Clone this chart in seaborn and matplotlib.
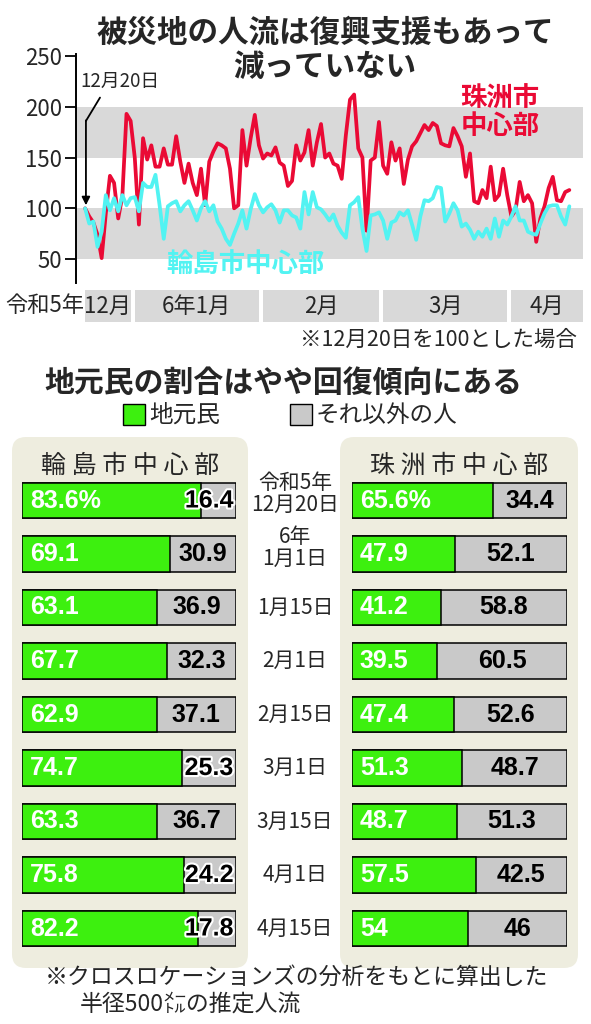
"""
被災地の人流 (輪島市・珠洲市中心部) と地元民の割合
"""

import numpy as np
import pandas as pd
import matplotlib
matplotlib.use("Agg")
import matplotlib.pyplot as plt
import seaborn as sns
from matplotlib.patches import Rectangle, FancyBboxPatch
from matplotlib import transforms
import matplotlib.patheffects as pe

sns.set_theme(style="white")
plt.rcParams['font.family'] = ['Noto Sans CJK JP', 'DejaVu Sans']

# ---- data: daily index (Dec 20 = 100) ----
days = pd.date_range("2023-12-20", "2024-04-15", freq="D")

suzu = [100, 92, 86, 74, 51, 95, 132, 125, 90, 112,
        193, 186, 150, 84, 169, 148, 162, 141, 141, 159,
        143, 143, 171, 146, 125, 144, 125, 113, 139, 103,
        146, 156, 164, 162, 159, 139, 100, 103, 177, 142,
        169, 192, 162, 149, 154, 152, 160, 145, 142, 122,
        127, 162, 147, 155, 177, 142, 165, 183, 150, 154,
        144, 142, 129, 172, 207, 212, 159, 150, 78, 147,
        150, 185, 142, 134, 165, 147, 159, 124, 148, 161,
        166, 174, 182, 177, 184, 181, 164, 162, 161, 179,
        171, 161, 131, 154, 107, 105, 118, 110, 141, 108,
        113, 139, 113, 92, 98, 126, 107, 113, 105, 67,
        90, 102, 120, 131, 108, 107, 116, 118]

wajima = [100, 85, 87, 62, 77, 113, 98, 110, 97, 113,
          103, 110, 111, 97, 125, 121, 121, 133, 103, 70,
          102, 105, 107, 97, 103, 107, 98, 88, 100, 107,
          97, 103, 87, 80, 70, 64, 75, 85, 98, 80,
          99, 114, 103, 96, 101, 104, 98, 86, 98, 98,
          93, 91, 80, 116, 94, 116, 101, 99, 94, 88,
          94, 83, 76, 71, 103, 106, 111, 80, 58, 93,
          94, 96, 88, 70, 86, 88, 96, 93, 98, 84,
          69, 92, 108, 107, 110, 121, 120, 87, 95, 105,
          98, 82, 85, 79, 70, 77, 72, 80, 70, 90,
          72, 88, 84, 92, 102, 88, 88, 77, 75, 74,
          85, 95, 102, 103, 103, 92, 84, 102]

yticks = [50, 100, 150, 200, 250]
month_labels = ["12月", "6年1月", "2月", "3月", "4月"]

# ---- data: share of local residents (%) ----
row_labels = ["令和5年\n12月20日", "6年\n1月1日", "1月15日", "2月1日", "2月15日",
              "3月1日", "3月15日", "4月1日", "4月15日"]
wajima_local = [83.6, 69.1, 63.1, 67.7, 62.9, 74.7, 63.3, 75.8, 82.2]
wajima_other = [16.4, 30.9, 36.9, 32.3, 37.1, 25.3, 36.7, 24.2, 17.8]
suzu_local = [65.6, 47.9, 41.2, 39.5, 47.4, 51.3, 48.7, 57.5, 54]
suzu_other = [34.4, 52.1, 58.8, 60.5, 52.6, 48.7, 51.3, 42.5, 46]

RED = "#EA0A35"
CYAN = "#52F3F2"
GREEN = "#3DF00F"
GRAY = "#C9C9C9"
BAND = "#D9D9D9"
PANEL = "#EEEDDF"

W, H = 591, 1024


def rect(l, t, r, b):
    """pixel box -> figure fraction"""
    return [l / W, 1 - b / H, (r - l) / W, (b - t) / H]


fig = plt.figure(figsize=(W / 100, H / 100), dpi=100)

# background axes in pixel units
bg = fig.add_axes([0, 0, 1, 1], zorder=0)
bg.set_xlim(0, W)
bg.set_ylim(H, 0)
bg.axis('off')

# ---- titles ----
bg.text(325, 33, "被災地の人流は復興支援もあって", ha='center', va='center',
        fontsize=22, fontweight='bold')
bg.text(325, 67, "減っていない", ha='center', va='center',
        fontsize=22, fontweight='bold')

# ---- line chart ----
ax = fig.add_axes(rect(76, 53.9, 583, 283), zorder=2)
ax.patch.set_alpha(0)
x = np.arange(len(days))
df = pd.DataFrame({"day": x, "珠洲市中心部": suzu, "輪島市中心部": wajima})

ax.axhspan(50, 100, color=BAND, lw=0, zorder=0)
ax.axhspan(150, 200, color=BAND, lw=0, zorder=0)
sns.lineplot(data=df, x="day", y="珠洲市中心部", ax=ax, color=RED, lw=2.7, zorder=3)
sns.lineplot(data=df, x="day", y="輪島市中心部", ax=ax, color=CYAN, lw=2.7, zorder=4)

ax.set_xlim(-2.2, 120.3)
ax.set_ylim(26.5, 252)
ax.set_yticks(yticks)
ax.set_xticks([])
ax.set_xlabel("")
ax.set_ylabel("")
for s in ['top', 'right', 'bottom']:
    ax.spines[s].set_visible(False)
ax.spines['left'].set_color('black')
ax.spines['left'].set_linewidth(1.4)
ax.tick_params(axis='y', length=8, width=1.3, color='black', labelsize=16,
               pad=2, left=True)

ax.text(0.836, 0.805, "珠洲市", transform=ax.transAxes, ha='center', va='center',
        fontsize=19, fontweight='bold', color=RED, zorder=6)
ax.text(0.836, 0.683, "中心部", transform=ax.transAxes, ha='center', va='center',
        fontsize=19, fontweight='bold', color=RED, zorder=6)
ax.text(0.335, 0.079, "輪島市中心部", transform=ax.transAxes, ha='center', va='center',
        fontsize=19, fontweight='bold', color=CYAN, zorder=6)

# start marker annotation
ax.text(0.087, 0.878, "12月20日", transform=ax.transAxes, ha='center', va='center',
        fontsize=13.5, zorder=6)
ax.plot([3.6, 0.2], [209, 186], color='black', lw=1.3, zorder=6, clip_on=False)
ax.annotate("", xy=(0.2, 103), xytext=(0.2, 186.5),
            arrowprops=dict(arrowstyle='-|>', color='black', lw=1.3,
                            mutation_scale=12, shrinkA=0, shrinkB=0), zorder=6)

# month strip
axm = fig.add_axes(rect(76, 290, 583, 322), zorder=2)
axm.set_xlim(ax.get_xlim())
axm.set_ylim(0, 1)
axm.axis('off')
periods = days.to_period('M')
for i, (per, lab) in enumerate(zip(periods.unique(), month_labels)):
    idx = np.where(periods == per)[0]
    start, end = idx[0], idx[-1]
    if i == len(month_labels) - 1:
        end = ax.get_xlim()[1]
    axm.add_patch(Rectangle((start, 0), end - start, 1, color=BAND, lw=0))
    axm.text((start + end) / 2, 0.5, lab, ha='center', va='center', fontsize=16)
axm.text(-0.3, 0.5, "令和5年", ha='right', va='center', fontsize=16, clip_on=False)

bg.text(577, 340, "※12月20日を100とした場合", ha='right', va='center', fontsize=15.5)

# ---- bottom section ----
bg.text(283, 383, "地元民の割合はやや回復傾向にある", ha='center', va='center',
        fontsize=21.5, fontweight='bold')
bg.add_patch(Rectangle((123, 404), 22, 21, fc=GREEN, ec='black', lw=1))
bg.text(149, 415, "地元民", ha='left', va='center', fontsize=17)
bg.add_patch(Rectangle((290, 404), 22, 21, fc=GRAY, ec='black', lw=1))
bg.text(316, 415, "それ以外の人", ha='left', va='center', fontsize=17)

r = 14
for l, rr in [(12, 248), (340, 578)]:
    bg.add_patch(FancyBboxPatch((l + r, 437 + r), rr - l - 2 * r, 968 - 437 - 2 * r,
                                boxstyle=f"round,pad={r}", fc=PANEL, ec='none'))
bg.text(130, 466, " ".join("輪島市中心部"), ha='center', va='center', fontsize=18)
bg.text(459, 466, " ".join("珠洲市中心部"), ha='center', va='center', fontsize=18)


def stacked(axb, local, other):
    total = [a + b for a, b in zip(local, other)]
    sns.barplot(x=total, y=row_labels, orient='h', color=GRAY, saturation=1,
                edgecolor='black', linewidth=1.1, width=0.66, ax=axb)
    sns.barplot(x=local, y=row_labels, orient='h', color=GREEN, saturation=1,
                edgecolor='black', linewidth=1.1, width=0.66, ax=axb)
    axb.set_xlim(0, 100)
    axb.set_ylim(len(row_labels) - 0.5, -0.5)
    axb.axis('off')
    for i, (a, b) in enumerate(zip(local, other)):
        txt = f"{a:g}%" if i == 0 else f"{a:g}"
        axb.text(3.7, i, txt, ha='left', va='center', color='white',
                 fontsize=18, fontweight='bold', family='Liberation Sans')
        xc = min(a + b / 2, 100 - 12.5)
        t = axb.text(xc, i, f"{b:g}", ha='center', va='center', color='black',
                     fontsize=18, fontweight='bold', family='Liberation Sans')
        if b < 26:
            t.set_path_effects([pe.withStroke(linewidth=3, foreground='white')])


axL = fig.add_axes(rect(22, 473.75, 236, 955.25), zorder=2)
stacked(axL, wajima_local, wajima_other)
axR = fig.add_axes(rect(352, 473.75, 567, 955.25), zorder=2)
stacked(axR, suzu_local, suzu_other)

trans = transforms.blended_transform_factory(fig.transFigure, axL.transData)
for i, lab in enumerate(row_labels):
    dy = -0.12 if "\n" in lab else 0
    fig.text(295 / W, i + dy, lab, transform=trans, ha='center', va='center',
             fontsize=15, linespacing=1.0, zorder=5)

# footer
bg.text(45, 977, "※クロスロケーションズの分析をもとに算出した", ha='left', va='center',
        fontsize=16.5)
bg.text(80, 1004, "半径500㍍の推定人流", ha='left', va='center', fontsize=16.5)

fig.savefig("out.png", dpi=100)
